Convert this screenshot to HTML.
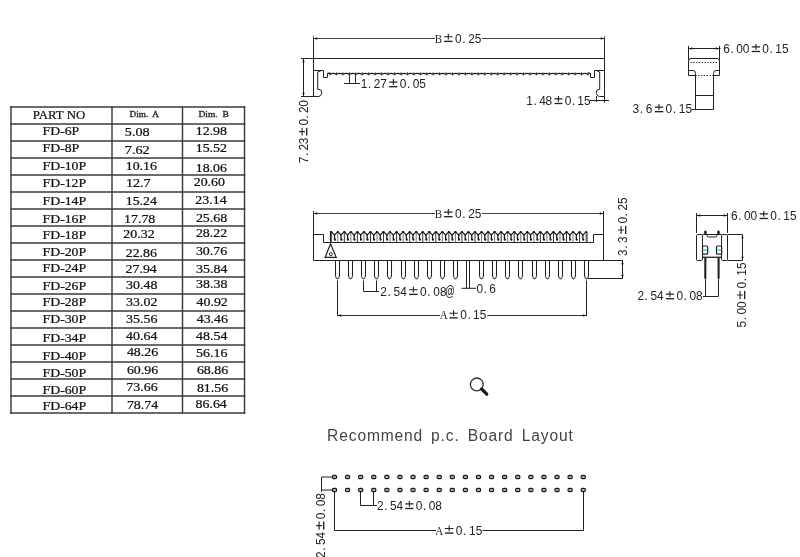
<!DOCTYPE html>
<html><head><meta charset="utf-8"><title>FD connector</title>
<style>
html,body{margin:0;padding:0;background:#fff;}
body{width:800px;height:557px;overflow:hidden;font-family:"Liberation Sans",sans-serif;}
svg{display:block;position:absolute;left:0;top:0;}
#main{filter:grayscale(1);}
</style></head><body>
<svg id="main" width="800" height="557" viewBox="0 0 800 557">
<rect width="800" height="557" fill="#fff"/>
<line x1="10.2" y1="107.0" x2="245.3" y2="107.0" stroke="#3a3a3a" stroke-width="1.45" />
<line x1="10.2" y1="124.0" x2="245.3" y2="124.0" stroke="#3a3a3a" stroke-width="1.45" />
<line x1="10.2" y1="141.0" x2="245.3" y2="141.0" stroke="#3a3a3a" stroke-width="1.45" />
<line x1="10.2" y1="158.0" x2="245.3" y2="158.0" stroke="#3a3a3a" stroke-width="1.45" />
<line x1="10.2" y1="175.0" x2="245.3" y2="175.0" stroke="#3a3a3a" stroke-width="1.45" />
<line x1="10.2" y1="192.0" x2="245.3" y2="192.0" stroke="#3a3a3a" stroke-width="1.45" />
<line x1="10.2" y1="209.0" x2="245.3" y2="209.0" stroke="#3a3a3a" stroke-width="1.45" />
<line x1="10.2" y1="226.0" x2="245.3" y2="226.0" stroke="#3a3a3a" stroke-width="1.45" />
<line x1="10.2" y1="243.0" x2="245.3" y2="243.0" stroke="#3a3a3a" stroke-width="1.45" />
<line x1="10.2" y1="260.0" x2="245.3" y2="260.0" stroke="#3a3a3a" stroke-width="1.45" />
<line x1="10.2" y1="277.0" x2="245.3" y2="277.0" stroke="#3a3a3a" stroke-width="1.45" />
<line x1="10.2" y1="294.0" x2="245.3" y2="294.0" stroke="#3a3a3a" stroke-width="1.45" />
<line x1="10.2" y1="311.0" x2="245.3" y2="311.0" stroke="#3a3a3a" stroke-width="1.45" />
<line x1="10.2" y1="328.0" x2="245.3" y2="328.0" stroke="#3a3a3a" stroke-width="1.45" />
<line x1="10.2" y1="345.0" x2="245.3" y2="345.0" stroke="#3a3a3a" stroke-width="1.45" />
<line x1="10.2" y1="362.0" x2="245.3" y2="362.0" stroke="#3a3a3a" stroke-width="1.45" />
<line x1="10.2" y1="379.0" x2="245.3" y2="379.0" stroke="#3a3a3a" stroke-width="1.45" />
<line x1="10.2" y1="396.0" x2="245.3" y2="396.0" stroke="#3a3a3a" stroke-width="1.45" />
<line x1="10.2" y1="413.0" x2="245.3" y2="413.0" stroke="#3a3a3a" stroke-width="1.45" />
<line x1="11.0" y1="106.2" x2="11.0" y2="413.8" stroke="#3a3a3a" stroke-width="1.45" />
<line x1="112.0" y1="106.2" x2="112.0" y2="413.8" stroke="#3a3a3a" stroke-width="1.45" />
<line x1="182.5" y1="106.2" x2="182.5" y2="413.8" stroke="#3a3a3a" stroke-width="1.45" />
<line x1="244.5" y1="106.2" x2="244.5" y2="413.8" stroke="#3a3a3a" stroke-width="1.45" />
<text x="32.8" y="118.8" font-family="Liberation Serif" font-size="11.5" fill="#111" textLength="52.40" lengthAdjust="spacingAndGlyphs" stroke="#111" stroke-width="0.22">PART NO</text>
<text x="129.5" y="117.4" font-family="Liberation Serif" font-size="8.3" fill="#222" textLength="29.50" lengthAdjust="spacingAndGlyphs" stroke="#222" stroke-width="0.3" xml:space="preserve">Dim.  A</text>
<text x="198.5" y="117.4" font-family="Liberation Serif" font-size="8.3" fill="#222" textLength="30.30" lengthAdjust="spacingAndGlyphs" stroke="#222" stroke-width="0.3" xml:space="preserve">Dim.  B</text>
<text x="42.5" y="134.65" font-family="Liberation Serif" font-size="11.6" fill="#111" textLength="36.80" lengthAdjust="spacingAndGlyphs" stroke="#111" stroke-width="0.22">FD-6P</text>
<text x="124.85" y="136.25" font-family="Liberation Serif" font-size="11.6" fill="#111" textLength="24.85" lengthAdjust="spacingAndGlyphs" stroke="#111" stroke-width="0.22">5.08</text>
<text x="195.7" y="134.55" font-family="Liberation Serif" font-size="11.6" fill="#111" textLength="31.30" lengthAdjust="spacingAndGlyphs" stroke="#111" stroke-width="0.22">12.98</text>
<text x="42.5" y="152.15" font-family="Liberation Serif" font-size="11.6" fill="#111" textLength="36.80" lengthAdjust="spacingAndGlyphs" stroke="#111" stroke-width="0.22">FD-8P</text>
<text x="124.85" y="153.7" font-family="Liberation Serif" font-size="11.6" fill="#111" textLength="24.85" lengthAdjust="spacingAndGlyphs" stroke="#111" stroke-width="0.22">7.62</text>
<text x="195.7" y="152.3" font-family="Liberation Serif" font-size="11.6" fill="#111" textLength="31.30" lengthAdjust="spacingAndGlyphs" stroke="#111" stroke-width="0.22">15.52</text>
<text x="42.5" y="170.35" font-family="Liberation Serif" font-size="11.6" fill="#111" textLength="43.70" lengthAdjust="spacingAndGlyphs" stroke="#111" stroke-width="0.22">FD-10P</text>
<text x="125.69999999999999" y="169.8" font-family="Liberation Serif" font-size="11.6" fill="#111" textLength="31.30" lengthAdjust="spacingAndGlyphs" stroke="#111" stroke-width="0.22">10.16</text>
<text x="195.7" y="171.55" font-family="Liberation Serif" font-size="11.6" fill="#111" textLength="31.30" lengthAdjust="spacingAndGlyphs" stroke="#111" stroke-width="0.22">18.06</text>
<text x="42.5" y="187.25" font-family="Liberation Serif" font-size="11.6" fill="#111" textLength="43.70" lengthAdjust="spacingAndGlyphs" stroke="#111" stroke-width="0.22">FD-12P</text>
<text x="125.89999999999999" y="187.05" font-family="Liberation Serif" font-size="11.6" fill="#111" textLength="24.80" lengthAdjust="spacingAndGlyphs" stroke="#111" stroke-width="0.22">12.7</text>
<text x="193.7" y="186.25" font-family="Liberation Serif" font-size="11.6" fill="#111" textLength="31.30" lengthAdjust="spacingAndGlyphs" stroke="#111" stroke-width="0.22">20.60</text>
<text x="42.5" y="205.15" font-family="Liberation Serif" font-size="11.6" fill="#111" textLength="43.70" lengthAdjust="spacingAndGlyphs" stroke="#111" stroke-width="0.22">FD-14P</text>
<text x="125.69999999999999" y="204.55" font-family="Liberation Serif" font-size="11.6" fill="#111" textLength="31.30" lengthAdjust="spacingAndGlyphs" stroke="#111" stroke-width="0.22">15.24</text>
<text x="195.29999999999998" y="204.4" font-family="Liberation Serif" font-size="11.6" fill="#111" textLength="31.30" lengthAdjust="spacingAndGlyphs" stroke="#111" stroke-width="0.22">23.14</text>
<text x="42.5" y="223.3" font-family="Liberation Serif" font-size="11.6" fill="#111" textLength="43.70" lengthAdjust="spacingAndGlyphs" stroke="#111" stroke-width="0.22">FD-16P</text>
<text x="124.0" y="223.4" font-family="Liberation Serif" font-size="11.6" fill="#111" textLength="31.30" lengthAdjust="spacingAndGlyphs" stroke="#111" stroke-width="0.22">17.78</text>
<text x="195.9" y="221.75" font-family="Liberation Serif" font-size="11.6" fill="#111" textLength="31.30" lengthAdjust="spacingAndGlyphs" stroke="#111" stroke-width="0.22">25.68</text>
<text x="42.5" y="239.2" font-family="Liberation Serif" font-size="11.6" fill="#111" textLength="43.70" lengthAdjust="spacingAndGlyphs" stroke="#111" stroke-width="0.22">FD-18P</text>
<text x="123.3" y="238.25" font-family="Liberation Serif" font-size="11.6" fill="#111" textLength="31.30" lengthAdjust="spacingAndGlyphs" stroke="#111" stroke-width="0.22">20.32</text>
<text x="195.9" y="236.6" font-family="Liberation Serif" font-size="11.6" fill="#111" textLength="31.30" lengthAdjust="spacingAndGlyphs" stroke="#111" stroke-width="0.22">28.22</text>
<text x="42.5" y="256.35" font-family="Liberation Serif" font-size="11.6" fill="#111" textLength="43.70" lengthAdjust="spacingAndGlyphs" stroke="#111" stroke-width="0.22">FD-20P</text>
<text x="125.69999999999999" y="256.85" font-family="Liberation Serif" font-size="11.6" fill="#111" textLength="31.30" lengthAdjust="spacingAndGlyphs" stroke="#111" stroke-width="0.22">22.86</text>
<text x="195.9" y="254.75" font-family="Liberation Serif" font-size="11.6" fill="#111" textLength="31.30" lengthAdjust="spacingAndGlyphs" stroke="#111" stroke-width="0.22">30.76</text>
<text x="42.5" y="271.75" font-family="Liberation Serif" font-size="11.6" fill="#111" textLength="43.70" lengthAdjust="spacingAndGlyphs" stroke="#111" stroke-width="0.22">FD-24P</text>
<text x="125.5" y="273.2" font-family="Liberation Serif" font-size="11.6" fill="#111" textLength="31.30" lengthAdjust="spacingAndGlyphs" stroke="#111" stroke-width="0.22">27.94</text>
<text x="196.1" y="273.2" font-family="Liberation Serif" font-size="11.6" fill="#111" textLength="31.30" lengthAdjust="spacingAndGlyphs" stroke="#111" stroke-width="0.22">35.84</text>
<text x="42.5" y="289.75" font-family="Liberation Serif" font-size="11.6" fill="#111" textLength="43.70" lengthAdjust="spacingAndGlyphs" stroke="#111" stroke-width="0.22">FD-26P</text>
<text x="126.1" y="288.65" font-family="Liberation Serif" font-size="11.6" fill="#111" textLength="31.30" lengthAdjust="spacingAndGlyphs" stroke="#111" stroke-width="0.22">30.48</text>
<text x="196.1" y="288.1" font-family="Liberation Serif" font-size="11.6" fill="#111" textLength="31.30" lengthAdjust="spacingAndGlyphs" stroke="#111" stroke-width="0.22">38.38</text>
<text x="42.5" y="305.55" font-family="Liberation Serif" font-size="11.6" fill="#111" textLength="43.70" lengthAdjust="spacingAndGlyphs" stroke="#111" stroke-width="0.22">FD-28P</text>
<text x="126.1" y="305.7" font-family="Liberation Serif" font-size="11.6" fill="#111" textLength="31.30" lengthAdjust="spacingAndGlyphs" stroke="#111" stroke-width="0.22">33.02</text>
<text x="196.5" y="305.95" font-family="Liberation Serif" font-size="11.6" fill="#111" textLength="31.30" lengthAdjust="spacingAndGlyphs" stroke="#111" stroke-width="0.22">40.92</text>
<text x="42.5" y="322.9" font-family="Liberation Serif" font-size="11.6" fill="#111" textLength="43.70" lengthAdjust="spacingAndGlyphs" stroke="#111" stroke-width="0.22">FD-30P</text>
<text x="126.1" y="322.8" font-family="Liberation Serif" font-size="11.6" fill="#111" textLength="31.30" lengthAdjust="spacingAndGlyphs" stroke="#111" stroke-width="0.22">35.56</text>
<text x="196.7" y="322.95" font-family="Liberation Serif" font-size="11.6" fill="#111" textLength="31.30" lengthAdjust="spacingAndGlyphs" stroke="#111" stroke-width="0.22">43.46</text>
<text x="42.5" y="341.85" font-family="Liberation Serif" font-size="11.6" fill="#111" textLength="43.70" lengthAdjust="spacingAndGlyphs" stroke="#111" stroke-width="0.22">FD-34P</text>
<text x="126.1" y="339.85" font-family="Liberation Serif" font-size="11.6" fill="#111" textLength="31.30" lengthAdjust="spacingAndGlyphs" stroke="#111" stroke-width="0.22">40.64</text>
<text x="196.1" y="339.85" font-family="Liberation Serif" font-size="11.6" fill="#111" textLength="31.30" lengthAdjust="spacingAndGlyphs" stroke="#111" stroke-width="0.22">48.54</text>
<text x="42.5" y="359.95" font-family="Liberation Serif" font-size="11.6" fill="#111" textLength="43.70" lengthAdjust="spacingAndGlyphs" stroke="#111" stroke-width="0.22">FD-40P</text>
<text x="126.89999999999999" y="356.45" font-family="Liberation Serif" font-size="11.6" fill="#111" textLength="31.30" lengthAdjust="spacingAndGlyphs" stroke="#111" stroke-width="0.22">48.26</text>
<text x="196.1" y="357.3" font-family="Liberation Serif" font-size="11.6" fill="#111" textLength="31.30" lengthAdjust="spacingAndGlyphs" stroke="#111" stroke-width="0.22">56.16</text>
<text x="42.5" y="376.5" font-family="Liberation Serif" font-size="11.6" fill="#111" textLength="43.70" lengthAdjust="spacingAndGlyphs" stroke="#111" stroke-width="0.22">FD-50P</text>
<text x="126.89999999999999" y="374.35" font-family="Liberation Serif" font-size="11.6" fill="#111" textLength="31.30" lengthAdjust="spacingAndGlyphs" stroke="#111" stroke-width="0.22">60.96</text>
<text x="196.9" y="374.35" font-family="Liberation Serif" font-size="11.6" fill="#111" textLength="31.30" lengthAdjust="spacingAndGlyphs" stroke="#111" stroke-width="0.22">68.86</text>
<text x="42.5" y="393.7" font-family="Liberation Serif" font-size="11.6" fill="#111" textLength="43.70" lengthAdjust="spacingAndGlyphs" stroke="#111" stroke-width="0.22">FD-60P</text>
<text x="126.3" y="391.2" font-family="Liberation Serif" font-size="11.6" fill="#111" textLength="31.30" lengthAdjust="spacingAndGlyphs" stroke="#111" stroke-width="0.22">73.66</text>
<text x="196.9" y="391.95" font-family="Liberation Serif" font-size="11.6" fill="#111" textLength="31.30" lengthAdjust="spacingAndGlyphs" stroke="#111" stroke-width="0.22">81.56</text>
<text x="42.5" y="410.0" font-family="Liberation Serif" font-size="11.6" fill="#111" textLength="43.70" lengthAdjust="spacingAndGlyphs" stroke="#111" stroke-width="0.22">FD-64P</text>
<text x="126.89999999999999" y="409.1" font-family="Liberation Serif" font-size="11.6" fill="#111" textLength="31.30" lengthAdjust="spacingAndGlyphs" stroke="#111" stroke-width="0.22">78.74</text>
<text x="195.5" y="407.5" font-family="Liberation Serif" font-size="11.6" fill="#111" textLength="31.30" lengthAdjust="spacingAndGlyphs" stroke="#111" stroke-width="0.22">86.64</text>
<line x1="313.5" y1="36.5" x2="313.5" y2="96.5" stroke="#222" stroke-width="1" />
<line x1="604.5" y1="36.5" x2="604.5" y2="102.5" stroke="#222" stroke-width="1" />
<line x1="313.5" y1="38.5" x2="435" y2="38.5" stroke="#444" stroke-width="1" />
<line x1="482" y1="38.5" x2="604.5" y2="38.5" stroke="#444" stroke-width="1" />
<polygon points="314,38.5 317.2,37.3 317.2,39.7" fill="#111"/>
<polygon points="604,38.5 600.8,37.3 600.8,39.7" fill="#111"/>
<g transform="translate(435.05,42.9)"><text x="-0.29" y="0" transform="scale(0.85,1)" font-family="Liberation Serif" font-size="12.94" fill="#222">B</text><path d="M9.03 -6.1H17.49M13.26 -9.1V-3.3" stroke="#222" stroke-width="1.1" fill="none"/><rect x="9.03" y="-2.2" width="8.46" height="1.35" fill="#222"/><text x="22.11 30.18 36.84 44.22" y="0" transform="scale(0.9,1)" font-family="Liberation Sans" font-size="13.2" fill="#222">0.25</text></g>
<line x1="301" y1="58.5" x2="604.5" y2="58.5" stroke="#222" stroke-width="1" />
<line x1="303.5" y1="58.5" x2="303.5" y2="96" stroke="#222" stroke-width="1" />
<polygon points="303.5,59 302.3,62.2 304.7,62.2" fill="#111"/>
<polygon points="303.5,96 302.3,92.8 304.7,92.8" fill="#111"/>
<line x1="301" y1="96.5" x2="319" y2="96.5" stroke="#222" stroke-width="1" />
<g transform="translate(308.20,162.95) rotate(-90)"><path d="M27.44 -6.1H35.16M31.30 -9.1V-3.3" stroke="#222" stroke-width="1.1" fill="none"/><rect x="27.44" y="-2.2" width="7.72" height="1.35" fill="#222"/><text x="-0.20 7.68 13.72 20.71 41.54 49.41 55.45 62.41" y="0" transform="scale(0.9,1)" font-family="Liberation Sans" font-size="13.2" fill="#222">7.230.20</text></g>
<path d="M313.5 70.5 L323.5 70.5 L323.5 77.5 L327.5 77.5 L327.5 73.5" stroke="#222" stroke-width="1" fill="none" />
<path d="M321 70.8 L317.7 72 L317.7 89.3 L320 89.6 Q321.6 90.1 321.6 92 L321.6 93.3 Q321.3 96.3 318.5 96.5" stroke="#222" stroke-width="1" fill="none" />
<g transform="translate(918,0) scale(-1,1)">
<path d="M313.5 70.5 L323.5 70.5 L323.5 77.5 L327.5 77.5 L327.5 73.5" stroke="#222" stroke-width="1" fill="none" />
<path d="M321 70.8 L318.3 72 L318.3 89.3 L320 89.6 Q321.6 90.1 321.6 92 L321.6 93.3 Q321.3 96.3 318.5 96.5 L313.5 96.5" stroke="#222" stroke-width="1" fill="none" />
</g>
<path d="M327.5 73.5 Q328.75 72.6 330.00 74.2 Q333.23 72.6 336.45 74.2 Q339.67 72.6 342.90 74.2 Q346.12 72.6 349.35 74.2 Q352.58 72.6 355.80 74.2 Q359.02 72.6 362.25 74.2 Q365.48 72.6 368.70 74.2 Q371.92 72.6 375.15 74.2 Q378.38 72.6 381.60 74.2 Q384.83 72.6 388.05 74.2 Q391.27 72.6 394.50 74.2 Q397.73 72.6 400.95 74.2 Q404.17 72.6 407.40 74.2 Q410.62 72.6 413.85 74.2 Q417.08 72.6 420.30 74.2 Q423.52 72.6 426.75 74.2 Q429.98 72.6 433.20 74.2 Q436.42 72.6 439.65 74.2 Q442.88 72.6 446.10 74.2 Q449.33 72.6 452.55 74.2 Q455.77 72.6 459.00 74.2 Q462.23 72.6 465.45 74.2 Q468.68 72.6 471.90 74.2 Q475.12 72.6 478.35 74.2 Q481.58 72.6 484.80 74.2 Q488.02 72.6 491.25 74.2 Q494.48 72.6 497.70 74.2 Q500.93 72.6 504.15 74.2 Q507.38 72.6 510.60 74.2 Q513.83 72.6 517.05 74.2 Q520.27 72.6 523.50 74.2 Q526.73 72.6 529.95 74.2 Q533.17 72.6 536.40 74.2 Q539.62 72.6 542.85 74.2 Q546.08 72.6 549.30 74.2 Q552.52 72.6 555.75 74.2 Q558.98 72.6 562.20 74.2 Q565.42 72.6 568.65 74.2 Q571.88 72.6 575.10 74.2 Q578.33 72.6 581.55 74.2 Q584.77 72.6 588.00 74.2 Q589.25 72.6 590.5 73.5" stroke="#1a1a1a" stroke-width="1.25" fill="none" />
<line x1="330.0" y1="72.2" x2="330.0" y2="75.4" stroke="#333" stroke-width="0.9" />
<line x1="336.45" y1="72.2" x2="336.45" y2="75.4" stroke="#333" stroke-width="0.9" />
<line x1="342.9" y1="72.2" x2="342.9" y2="75.4" stroke="#333" stroke-width="0.9" />
<line x1="349.35" y1="72.2" x2="349.35" y2="75.4" stroke="#333" stroke-width="0.9" />
<line x1="355.8" y1="72.2" x2="355.8" y2="75.4" stroke="#333" stroke-width="0.9" />
<line x1="362.25" y1="72.2" x2="362.25" y2="75.4" stroke="#333" stroke-width="0.9" />
<line x1="368.7" y1="72.2" x2="368.7" y2="75.4" stroke="#333" stroke-width="0.9" />
<line x1="375.15" y1="72.2" x2="375.15" y2="75.4" stroke="#333" stroke-width="0.9" />
<line x1="381.6" y1="72.2" x2="381.6" y2="75.4" stroke="#333" stroke-width="0.9" />
<line x1="388.05" y1="72.2" x2="388.05" y2="75.4" stroke="#333" stroke-width="0.9" />
<line x1="394.5" y1="72.2" x2="394.5" y2="75.4" stroke="#333" stroke-width="0.9" />
<line x1="400.95" y1="72.2" x2="400.95" y2="75.4" stroke="#333" stroke-width="0.9" />
<line x1="407.4" y1="72.2" x2="407.4" y2="75.4" stroke="#333" stroke-width="0.9" />
<line x1="413.85" y1="72.2" x2="413.85" y2="75.4" stroke="#333" stroke-width="0.9" />
<line x1="420.3" y1="72.2" x2="420.3" y2="75.4" stroke="#333" stroke-width="0.9" />
<line x1="426.75" y1="72.2" x2="426.75" y2="75.4" stroke="#333" stroke-width="0.9" />
<line x1="433.2" y1="72.2" x2="433.2" y2="75.4" stroke="#333" stroke-width="0.9" />
<line x1="439.65" y1="72.2" x2="439.65" y2="75.4" stroke="#333" stroke-width="0.9" />
<line x1="446.1" y1="72.2" x2="446.1" y2="75.4" stroke="#333" stroke-width="0.9" />
<line x1="452.55" y1="72.2" x2="452.55" y2="75.4" stroke="#333" stroke-width="0.9" />
<line x1="459.0" y1="72.2" x2="459.0" y2="75.4" stroke="#333" stroke-width="0.9" />
<line x1="465.45" y1="72.2" x2="465.45" y2="75.4" stroke="#333" stroke-width="0.9" />
<line x1="471.9" y1="72.2" x2="471.9" y2="75.4" stroke="#333" stroke-width="0.9" />
<line x1="478.35" y1="72.2" x2="478.35" y2="75.4" stroke="#333" stroke-width="0.9" />
<line x1="484.8" y1="72.2" x2="484.8" y2="75.4" stroke="#333" stroke-width="0.9" />
<line x1="491.25" y1="72.2" x2="491.25" y2="75.4" stroke="#333" stroke-width="0.9" />
<line x1="497.7" y1="72.2" x2="497.7" y2="75.4" stroke="#333" stroke-width="0.9" />
<line x1="504.15" y1="72.2" x2="504.15" y2="75.4" stroke="#333" stroke-width="0.9" />
<line x1="510.6" y1="72.2" x2="510.6" y2="75.4" stroke="#333" stroke-width="0.9" />
<line x1="517.05" y1="72.2" x2="517.05" y2="75.4" stroke="#333" stroke-width="0.9" />
<line x1="523.5" y1="72.2" x2="523.5" y2="75.4" stroke="#333" stroke-width="0.9" />
<line x1="529.95" y1="72.2" x2="529.95" y2="75.4" stroke="#333" stroke-width="0.9" />
<line x1="536.4" y1="72.2" x2="536.4" y2="75.4" stroke="#333" stroke-width="0.9" />
<line x1="542.85" y1="72.2" x2="542.85" y2="75.4" stroke="#333" stroke-width="0.9" />
<line x1="549.3" y1="72.2" x2="549.3" y2="75.4" stroke="#333" stroke-width="0.9" />
<line x1="555.75" y1="72.2" x2="555.75" y2="75.4" stroke="#333" stroke-width="0.9" />
<line x1="562.2" y1="72.2" x2="562.2" y2="75.4" stroke="#333" stroke-width="0.9" />
<line x1="568.65" y1="72.2" x2="568.65" y2="75.4" stroke="#333" stroke-width="0.9" />
<line x1="575.1" y1="72.2" x2="575.1" y2="75.4" stroke="#333" stroke-width="0.9" />
<line x1="581.55" y1="72.2" x2="581.55" y2="75.4" stroke="#333" stroke-width="0.9" />
<line x1="588.0" y1="72.2" x2="588.0" y2="75.4" stroke="#333" stroke-width="0.9" />
<line x1="349.5" y1="74" x2="349.5" y2="84" stroke="#333" stroke-width="1" />
<line x1="355.5" y1="74" x2="355.5" y2="84" stroke="#333" stroke-width="1" />
<line x1="344" y1="83.5" x2="360" y2="83.5" stroke="#222" stroke-width="1" />
<g transform="translate(360.85,88.2)"><path d="M28.40 -6.1H36.60M32.50 -9.1V-3.3" stroke="#222" stroke-width="1.1" fill="none"/><rect x="28.40" y="-2.2" width="8.20" height="1.35" fill="#222"/><text x="-0.24 7.94 14.38 21.60 43.27 51.28 57.72 64.95" y="0" transform="scale(0.9,1)" font-family="Liberation Sans" font-size="13.2" fill="#222">1.270.05</text></g>
<line x1="596.5" y1="96" x2="596.5" y2="102" stroke="#333" stroke-width="1" />
<line x1="590" y1="100.5" x2="609" y2="100.5" stroke="#222" stroke-width="1" />
<g transform="translate(526.45,105)"><path d="M28.00 -6.1H36.00M32.00 -9.1V-3.3" stroke="#222" stroke-width="1.1" fill="none"/><rect x="28.00" y="-2.2" width="8.00" height="1.35" fill="#222"/><text x="-0.30 7.83 14.15 21.22 42.55 50.50 56.59 63.90" y="0" transform="scale(0.9,1)" font-family="Liberation Sans" font-size="13.2" fill="#222">1.480.15</text></g>
<line x1="313.5" y1="211" x2="313.5" y2="260.5" stroke="#222" stroke-width="1" />
<line x1="603.5" y1="211" x2="603.5" y2="260.5" stroke="#222" stroke-width="1" />
<line x1="313.5" y1="213.5" x2="435" y2="213.5" stroke="#444" stroke-width="1" />
<line x1="482" y1="213.5" x2="603.5" y2="213.5" stroke="#444" stroke-width="1" />
<polygon points="314,213.5 317.2,212.3 317.2,214.7" fill="#111"/>
<polygon points="603,213.5 599.8,212.3 599.8,214.7" fill="#111"/>
<g transform="translate(435.05,218.2)"><text x="-0.29" y="0" transform="scale(0.85,1)" font-family="Liberation Serif" font-size="12.94" fill="#222">B</text><path d="M9.03 -6.1H17.49M13.26 -9.1V-3.3" stroke="#222" stroke-width="1.1" fill="none"/><rect x="9.03" y="-2.2" width="8.46" height="1.35" fill="#222"/><text x="22.11 30.18 36.84 44.22" y="0" transform="scale(0.9,1)" font-family="Liberation Sans" font-size="13.2" fill="#222">0.25</text></g>
<path d="M313.5 234.5 L323.5 234.5 L323.5 242.5 L593.5 242.5 L593.5 234.5 L603.5 234.5" stroke="#222" stroke-width="1" fill="none" />
<line x1="313.5" y1="260.5" x2="623" y2="260.5" stroke="#222" stroke-width="1" />
<path d="M330.5 242.5 L330.5 232 L331.25 231.8 L334.52 234.9 L337.79 231.8 L337.79 231.8 L341.05 234.9 L344.32 231.8 L344.32 231.8 L347.59 234.9 L350.86 231.8 L350.86 231.8 L354.12 234.9 L357.39 231.8 L357.39 231.8 L360.66 234.9 L363.93 231.8 L363.93 231.8 L367.19 234.9 L370.46 231.8 L370.46 231.8 L373.73 234.9 L377.00 231.8 L377.00 231.8 L380.26 234.9 L383.53 231.8 L383.53 231.8 L386.80 234.9 L390.06 231.8 L390.06 231.8 L393.33 234.9 L396.60 231.8 L396.60 231.8 L399.87 234.9 L403.14 231.8 L403.13 231.8 L406.40 234.9 L409.67 231.8 L409.67 231.8 L412.94 234.9 L416.21 231.8 L416.20 231.8 L419.47 234.9 L422.74 231.8 L422.74 231.8 L426.01 234.9 L429.28 231.8 L429.27 231.8 L432.54 234.9 L435.81 231.8 L435.81 231.8 L439.08 234.9 L442.35 231.8 L442.35 231.8 L445.61 234.9 L448.88 231.8 L448.88 231.8 L452.15 234.9 L455.42 231.8 L455.42 231.8 L458.68 234.9 L461.95 231.8 L461.95 231.8 L465.22 234.9 L468.49 231.8 L468.49 231.8 L471.75 234.9 L475.02 231.8 L475.02 231.8 L478.29 234.9 L481.56 231.8 L481.56 231.8 L484.82 234.9 L488.09 231.8 L488.09 231.8 L491.36 234.9 L494.63 231.8 L494.62 231.8 L497.89 234.9 L501.16 231.8 L501.16 231.8 L504.43 234.9 L507.69 231.8 L507.69 231.8 L510.96 234.9 L514.23 231.8 L514.23 231.8 L517.50 234.9 L520.76 231.8 L520.76 231.8 L524.03 234.9 L527.30 231.8 L527.30 231.8 L530.57 234.9 L533.83 231.8 L533.84 231.8 L537.10 234.9 L540.37 231.8 L540.37 231.8 L543.64 234.9 L546.90 231.8 L546.90 231.8 L550.17 234.9 L553.44 231.8 L553.44 231.8 L556.71 234.9 L559.98 231.8 L559.98 231.8 L563.24 234.9 L566.51 231.8 L566.51 231.8 L569.78 234.9 L573.04 231.8 L573.05 231.8 L576.31 234.9 L579.58 231.8 L579.58 231.8 L582.85 234.9 L586.12 231.8" stroke="#1a1a1a" stroke-width="1.15" fill="none" />
<line x1="331.25" y1="232" x2="331.25" y2="242.5" stroke="#333" stroke-width="1.0" />
<circle cx="331.25" cy="232.0" r="1.1" fill="#111"/>
<path d="M334.52 234.6 L334.52 239.3" stroke="#111" stroke-width="1.25" fill="none" />
<circle cx="334.92" cy="239.7" r="1.1" fill="#111"/>
<line x1="337.79" y1="232" x2="337.79" y2="242.5" stroke="#777" stroke-width="1.0" />
<circle cx="337.79" cy="232.0" r="1.1" fill="#111"/>
<path d="M341.05 234.6 L341.05 239.3" stroke="#111" stroke-width="1.25" fill="none" />
<circle cx="341.45" cy="239.7" r="1.1" fill="#111"/>
<line x1="344.32" y1="232" x2="344.32" y2="242.5" stroke="#333" stroke-width="1.0" />
<circle cx="344.32" cy="232.0" r="1.1" fill="#111"/>
<path d="M347.59 234.6 L347.59 239.3" stroke="#111" stroke-width="1.25" fill="none" />
<circle cx="347.99" cy="239.7" r="1.1" fill="#111"/>
<line x1="350.86" y1="232" x2="350.86" y2="242.5" stroke="#777" stroke-width="1.0" />
<circle cx="350.86" cy="232.0" r="1.1" fill="#111"/>
<path d="M354.12 234.6 L354.12 239.3" stroke="#111" stroke-width="1.25" fill="none" />
<circle cx="354.52" cy="239.7" r="1.1" fill="#111"/>
<line x1="357.39" y1="232" x2="357.39" y2="242.5" stroke="#333" stroke-width="1.0" />
<circle cx="357.39" cy="232.0" r="1.1" fill="#111"/>
<path d="M360.66 234.6 L360.66 239.3" stroke="#111" stroke-width="1.25" fill="none" />
<circle cx="361.06" cy="239.7" r="1.1" fill="#111"/>
<line x1="363.93" y1="232" x2="363.93" y2="242.5" stroke="#777" stroke-width="1.0" />
<circle cx="363.93" cy="232.0" r="1.1" fill="#111"/>
<path d="M367.19 234.6 L367.19 239.3" stroke="#111" stroke-width="1.25" fill="none" />
<circle cx="367.59" cy="239.7" r="1.1" fill="#111"/>
<line x1="370.46" y1="232" x2="370.46" y2="242.5" stroke="#333" stroke-width="1.0" />
<circle cx="370.46" cy="232.0" r="1.1" fill="#111"/>
<path d="M373.73 234.6 L373.73 239.3" stroke="#111" stroke-width="1.25" fill="none" />
<circle cx="374.13" cy="239.7" r="1.1" fill="#111"/>
<line x1="377.0" y1="232" x2="377.0" y2="242.5" stroke="#777" stroke-width="1.0" />
<circle cx="377.00" cy="232.0" r="1.1" fill="#111"/>
<path d="M380.26 234.6 L380.26 239.3" stroke="#111" stroke-width="1.25" fill="none" />
<circle cx="380.66" cy="239.7" r="1.1" fill="#111"/>
<line x1="383.53" y1="232" x2="383.53" y2="242.5" stroke="#333" stroke-width="1.0" />
<circle cx="383.53" cy="232.0" r="1.1" fill="#111"/>
<path d="M386.80 234.6 L386.80 239.3" stroke="#111" stroke-width="1.25" fill="none" />
<circle cx="387.20" cy="239.7" r="1.1" fill="#111"/>
<line x1="390.06" y1="232" x2="390.06" y2="242.5" stroke="#777" stroke-width="1.0" />
<circle cx="390.06" cy="232.0" r="1.1" fill="#111"/>
<path d="M393.33 234.6 L393.33 239.3" stroke="#111" stroke-width="1.25" fill="none" />
<circle cx="393.73" cy="239.7" r="1.1" fill="#111"/>
<line x1="396.6" y1="232" x2="396.6" y2="242.5" stroke="#333" stroke-width="1.0" />
<circle cx="396.60" cy="232.0" r="1.1" fill="#111"/>
<path d="M399.87 234.6 L399.87 239.3" stroke="#111" stroke-width="1.25" fill="none" />
<circle cx="400.27" cy="239.7" r="1.1" fill="#111"/>
<line x1="403.13" y1="232" x2="403.13" y2="242.5" stroke="#777" stroke-width="1.0" />
<circle cx="403.13" cy="232.0" r="1.1" fill="#111"/>
<path d="M406.40 234.6 L406.40 239.3" stroke="#111" stroke-width="1.25" fill="none" />
<circle cx="406.80" cy="239.7" r="1.1" fill="#111"/>
<line x1="409.67" y1="232" x2="409.67" y2="242.5" stroke="#333" stroke-width="1.0" />
<circle cx="409.67" cy="232.0" r="1.1" fill="#111"/>
<path d="M412.94 234.6 L412.94 239.3" stroke="#111" stroke-width="1.25" fill="none" />
<circle cx="413.34" cy="239.7" r="1.1" fill="#111"/>
<line x1="416.2" y1="232" x2="416.2" y2="242.5" stroke="#777" stroke-width="1.0" />
<circle cx="416.20" cy="232.0" r="1.1" fill="#111"/>
<path d="M419.47 234.6 L419.47 239.3" stroke="#111" stroke-width="1.25" fill="none" />
<circle cx="419.87" cy="239.7" r="1.1" fill="#111"/>
<line x1="422.74" y1="232" x2="422.74" y2="242.5" stroke="#333" stroke-width="1.0" />
<circle cx="422.74" cy="232.0" r="1.1" fill="#111"/>
<path d="M426.01 234.6 L426.01 239.3" stroke="#111" stroke-width="1.25" fill="none" />
<circle cx="426.41" cy="239.7" r="1.1" fill="#111"/>
<line x1="429.27" y1="232" x2="429.27" y2="242.5" stroke="#777" stroke-width="1.0" />
<circle cx="429.27" cy="232.0" r="1.1" fill="#111"/>
<path d="M432.54 234.6 L432.54 239.3" stroke="#111" stroke-width="1.25" fill="none" />
<circle cx="432.94" cy="239.7" r="1.1" fill="#111"/>
<line x1="435.81" y1="232" x2="435.81" y2="242.5" stroke="#333" stroke-width="1.0" />
<circle cx="435.81" cy="232.0" r="1.1" fill="#111"/>
<path d="M439.08 234.6 L439.08 239.3" stroke="#111" stroke-width="1.25" fill="none" />
<circle cx="439.48" cy="239.7" r="1.1" fill="#111"/>
<line x1="442.35" y1="232" x2="442.35" y2="242.5" stroke="#777" stroke-width="1.0" />
<circle cx="442.35" cy="232.0" r="1.1" fill="#111"/>
<path d="M445.61 234.6 L445.61 239.3" stroke="#111" stroke-width="1.25" fill="none" />
<circle cx="446.01" cy="239.7" r="1.1" fill="#111"/>
<line x1="448.88" y1="232" x2="448.88" y2="242.5" stroke="#333" stroke-width="1.0" />
<circle cx="448.88" cy="232.0" r="1.1" fill="#111"/>
<path d="M452.15 234.6 L452.15 239.3" stroke="#111" stroke-width="1.25" fill="none" />
<circle cx="452.55" cy="239.7" r="1.1" fill="#111"/>
<line x1="455.42" y1="232" x2="455.42" y2="242.5" stroke="#777" stroke-width="1.0" />
<circle cx="455.42" cy="232.0" r="1.1" fill="#111"/>
<path d="M458.68 234.6 L458.68 239.3" stroke="#111" stroke-width="1.25" fill="none" />
<circle cx="459.08" cy="239.7" r="1.1" fill="#111"/>
<line x1="461.95" y1="232" x2="461.95" y2="242.5" stroke="#333" stroke-width="1.0" />
<circle cx="461.95" cy="232.0" r="1.1" fill="#111"/>
<path d="M465.22 234.6 L465.22 239.3" stroke="#111" stroke-width="1.25" fill="none" />
<circle cx="465.62" cy="239.7" r="1.1" fill="#111"/>
<line x1="468.49" y1="232" x2="468.49" y2="242.5" stroke="#777" stroke-width="1.0" />
<circle cx="468.49" cy="232.0" r="1.1" fill="#111"/>
<path d="M471.75 234.6 L471.75 239.3" stroke="#111" stroke-width="1.25" fill="none" />
<circle cx="472.15" cy="239.7" r="1.1" fill="#111"/>
<line x1="475.02" y1="232" x2="475.02" y2="242.5" stroke="#333" stroke-width="1.0" />
<circle cx="475.02" cy="232.0" r="1.1" fill="#111"/>
<path d="M478.29 234.6 L478.29 239.3" stroke="#111" stroke-width="1.25" fill="none" />
<circle cx="478.69" cy="239.7" r="1.1" fill="#111"/>
<line x1="481.56" y1="232" x2="481.56" y2="242.5" stroke="#777" stroke-width="1.0" />
<circle cx="481.56" cy="232.0" r="1.1" fill="#111"/>
<path d="M484.82 234.6 L484.82 239.3" stroke="#111" stroke-width="1.25" fill="none" />
<circle cx="485.22" cy="239.7" r="1.1" fill="#111"/>
<line x1="488.09" y1="232" x2="488.09" y2="242.5" stroke="#333" stroke-width="1.0" />
<circle cx="488.09" cy="232.0" r="1.1" fill="#111"/>
<path d="M491.36 234.6 L491.36 239.3" stroke="#111" stroke-width="1.25" fill="none" />
<circle cx="491.76" cy="239.7" r="1.1" fill="#111"/>
<line x1="494.62" y1="232" x2="494.62" y2="242.5" stroke="#777" stroke-width="1.0" />
<circle cx="494.62" cy="232.0" r="1.1" fill="#111"/>
<path d="M497.89 234.6 L497.89 239.3" stroke="#111" stroke-width="1.25" fill="none" />
<circle cx="498.29" cy="239.7" r="1.1" fill="#111"/>
<line x1="501.16" y1="232" x2="501.16" y2="242.5" stroke="#333" stroke-width="1.0" />
<circle cx="501.16" cy="232.0" r="1.1" fill="#111"/>
<path d="M504.43 234.6 L504.43 239.3" stroke="#111" stroke-width="1.25" fill="none" />
<circle cx="504.83" cy="239.7" r="1.1" fill="#111"/>
<line x1="507.69" y1="232" x2="507.69" y2="242.5" stroke="#777" stroke-width="1.0" />
<circle cx="507.69" cy="232.0" r="1.1" fill="#111"/>
<path d="M510.96 234.6 L510.96 239.3" stroke="#111" stroke-width="1.25" fill="none" />
<circle cx="511.36" cy="239.7" r="1.1" fill="#111"/>
<line x1="514.23" y1="232" x2="514.23" y2="242.5" stroke="#333" stroke-width="1.0" />
<circle cx="514.23" cy="232.0" r="1.1" fill="#111"/>
<path d="M517.50 234.6 L517.50 239.3" stroke="#111" stroke-width="1.25" fill="none" />
<circle cx="517.90" cy="239.7" r="1.1" fill="#111"/>
<line x1="520.76" y1="232" x2="520.76" y2="242.5" stroke="#777" stroke-width="1.0" />
<circle cx="520.76" cy="232.0" r="1.1" fill="#111"/>
<path d="M524.03 234.6 L524.03 239.3" stroke="#111" stroke-width="1.25" fill="none" />
<circle cx="524.43" cy="239.7" r="1.1" fill="#111"/>
<line x1="527.3" y1="232" x2="527.3" y2="242.5" stroke="#333" stroke-width="1.0" />
<circle cx="527.30" cy="232.0" r="1.1" fill="#111"/>
<path d="M530.57 234.6 L530.57 239.3" stroke="#111" stroke-width="1.25" fill="none" />
<circle cx="530.97" cy="239.7" r="1.1" fill="#111"/>
<line x1="533.84" y1="232" x2="533.84" y2="242.5" stroke="#777" stroke-width="1.0" />
<circle cx="533.84" cy="232.0" r="1.1" fill="#111"/>
<path d="M537.10 234.6 L537.10 239.3" stroke="#111" stroke-width="1.25" fill="none" />
<circle cx="537.50" cy="239.7" r="1.1" fill="#111"/>
<line x1="540.37" y1="232" x2="540.37" y2="242.5" stroke="#333" stroke-width="1.0" />
<circle cx="540.37" cy="232.0" r="1.1" fill="#111"/>
<path d="M543.64 234.6 L543.64 239.3" stroke="#111" stroke-width="1.25" fill="none" />
<circle cx="544.04" cy="239.7" r="1.1" fill="#111"/>
<line x1="546.9" y1="232" x2="546.9" y2="242.5" stroke="#777" stroke-width="1.0" />
<circle cx="546.90" cy="232.0" r="1.1" fill="#111"/>
<path d="M550.17 234.6 L550.17 239.3" stroke="#111" stroke-width="1.25" fill="none" />
<circle cx="550.57" cy="239.7" r="1.1" fill="#111"/>
<line x1="553.44" y1="232" x2="553.44" y2="242.5" stroke="#333" stroke-width="1.0" />
<circle cx="553.44" cy="232.0" r="1.1" fill="#111"/>
<path d="M556.71 234.6 L556.71 239.3" stroke="#111" stroke-width="1.25" fill="none" />
<circle cx="557.11" cy="239.7" r="1.1" fill="#111"/>
<line x1="559.98" y1="232" x2="559.98" y2="242.5" stroke="#777" stroke-width="1.0" />
<circle cx="559.98" cy="232.0" r="1.1" fill="#111"/>
<path d="M563.24 234.6 L563.24 239.3" stroke="#111" stroke-width="1.25" fill="none" />
<circle cx="563.64" cy="239.7" r="1.1" fill="#111"/>
<line x1="566.51" y1="232" x2="566.51" y2="242.5" stroke="#333" stroke-width="1.0" />
<circle cx="566.51" cy="232.0" r="1.1" fill="#111"/>
<path d="M569.78 234.6 L569.78 239.3" stroke="#111" stroke-width="1.25" fill="none" />
<circle cx="570.18" cy="239.7" r="1.1" fill="#111"/>
<line x1="573.05" y1="232" x2="573.05" y2="242.5" stroke="#777" stroke-width="1.0" />
<circle cx="573.05" cy="232.0" r="1.1" fill="#111"/>
<path d="M576.31 234.6 L576.31 239.3" stroke="#111" stroke-width="1.25" fill="none" />
<circle cx="576.71" cy="239.7" r="1.1" fill="#111"/>
<line x1="579.58" y1="232" x2="579.58" y2="242.5" stroke="#333" stroke-width="1.0" />
<circle cx="579.58" cy="232.0" r="1.1" fill="#111"/>
<path d="M582.85 234.6 L582.85 239.3" stroke="#111" stroke-width="1.25" fill="none" />
<circle cx="583.25" cy="239.7" r="1.1" fill="#111"/>
<line x1="586.12" y1="232" x2="586.12" y2="242.5" stroke="#777" stroke-width="1.0" />
<circle cx="586.12" cy="232.0" r="1.1" fill="#111"/>
<line x1="587" y1="232" x2="587" y2="242.5" stroke="#222" stroke-width="1" />
<path d="M330.5 243.8 L325.2 257.3 L336.2 257.3 Z" stroke="#222" stroke-width="1.2" fill="none" />
<circle cx="330.8" cy="254.2" r="1.5" fill="none" stroke="#222" stroke-width="1"/>
<path d="M335.5 261 L335.5 275.8 Q335.9 278.6 337.5 279 Q339.1 278.6 339.5 275.8 L339.5 261" stroke="#222" stroke-width="1.05" fill="none" />
<path d="M348.5 261 L348.5 275.8 Q348.9 278.6 350.5 279 Q352.1 278.6 352.5 275.8 L352.5 261" stroke="#222" stroke-width="1.05" fill="none" />
<path d="M361.5 261 L361.5 275.8 Q361.9 278.6 363.5 279 Q365.1 278.6 365.5 275.8 L365.5 261" stroke="#222" stroke-width="1.05" fill="none" />
<path d="M374.5 261 L374.5 275.8 Q374.9 278.6 376.5 279 Q378.1 278.6 378.5 275.8 L378.5 261" stroke="#222" stroke-width="1.05" fill="none" />
<path d="M387.5 261 L387.5 275.8 Q387.9 278.6 389.5 279 Q391.1 278.6 391.5 275.8 L391.5 261" stroke="#222" stroke-width="1.05" fill="none" />
<path d="M401.5 261 L401.5 275.8 Q401.9 278.6 403.5 279 Q405.1 278.6 405.5 275.8 L405.5 261" stroke="#222" stroke-width="1.05" fill="none" />
<path d="M414.5 261 L414.5 275.8 Q414.9 278.6 416.5 279 Q418.1 278.6 418.5 275.8 L418.5 261" stroke="#222" stroke-width="1.05" fill="none" />
<path d="M427.5 261 L427.5 275.8 Q427.9 278.6 429.5 279 Q431.1 278.6 431.5 275.8 L431.5 261" stroke="#222" stroke-width="1.05" fill="none" />
<path d="M440.5 261 L440.5 275.8 Q440.9 278.6 442.5 279 Q444.1 278.6 444.5 275.8 L444.5 261" stroke="#222" stroke-width="1.05" fill="none" />
<path d="M453.5 261 L453.5 275.8 Q453.9 278.6 455.5 279 Q457.1 278.6 457.5 275.8 L457.5 261" stroke="#222" stroke-width="1.05" fill="none" />
<line x1="466.5" y1="261" x2="466.5" y2="288.3" stroke="#222" stroke-width="1" />
<line x1="469.5" y1="261" x2="469.5" y2="288.3" stroke="#222" stroke-width="1" />
<path d="M479.5 261 L479.5 275.8 Q479.9 278.6 481.5 279 Q483.1 278.6 483.5 275.8 L483.5 261" stroke="#222" stroke-width="1.05" fill="none" />
<path d="M492.5 261 L492.5 275.8 Q492.9 278.6 494.5 279 Q496.1 278.6 496.5 275.8 L496.5 261" stroke="#222" stroke-width="1.05" fill="none" />
<path d="M505.5 261 L505.5 275.8 Q505.9 278.6 507.5 279 Q509.1 278.6 509.5 275.8 L509.5 261" stroke="#222" stroke-width="1.05" fill="none" />
<path d="M518.5 261 L518.5 275.8 Q518.9 278.6 520.5 279 Q522.1 278.6 522.5 275.8 L522.5 261" stroke="#222" stroke-width="1.05" fill="none" />
<path d="M532.5 261 L532.5 275.8 Q532.9 278.6 534.5 279 Q536.1 278.6 536.5 275.8 L536.5 261" stroke="#222" stroke-width="1.05" fill="none" />
<path d="M545.5 261 L545.5 275.8 Q545.9 278.6 547.5 279 Q549.1 278.6 549.5 275.8 L549.5 261" stroke="#222" stroke-width="1.05" fill="none" />
<path d="M558.5 261 L558.5 275.8 Q558.9 278.6 560.5 279 Q562.1 278.6 562.5 275.8 L562.5 261" stroke="#222" stroke-width="1.05" fill="none" />
<path d="M571.5 261 L571.5 275.8 Q571.9 278.6 573.5 279 Q575.1 278.6 575.5 275.8 L575.5 261" stroke="#222" stroke-width="1.05" fill="none" />
<path d="M584.5 261 L584.5 275.8 Q584.9 278.6 586.5 279 Q588.1 278.6 588.5 275.8 L588.5 261" stroke="#222" stroke-width="1.05" fill="none" />
<line x1="337.5" y1="280.5" x2="337.5" y2="316" stroke="#222" stroke-width="1" />
<line x1="586.5" y1="280.5" x2="586.5" y2="316" stroke="#222" stroke-width="1" />
<line x1="337.5" y1="315.5" x2="440" y2="315.5" stroke="#333" stroke-width="1" />
<line x1="487.3" y1="315.5" x2="586.5" y2="315.5" stroke="#333" stroke-width="1" />
<polygon points="338,315.5 341.2,314.3 341.2,316.7" fill="#111"/>
<polygon points="586,315.5 582.8,314.3 582.8,316.7" fill="#111"/>
<g transform="translate(440.45,319.4)"><text x="-0.82" y="0" transform="scale(0.85,1)" font-family="Liberation Serif" font-size="12.94" fill="#222">A</text><path d="M8.97 -6.1H17.31M13.14 -9.1V-3.3" stroke="#222" stroke-width="1.1" fill="none"/><rect x="8.97" y="-2.2" width="8.34" height="1.35" fill="#222"/><text x="21.88 29.93 36.31 43.80" y="0" transform="scale(0.9,1)" font-family="Liberation Sans" font-size="13.2" fill="#222">0.15</text></g>
<line x1="363.5" y1="280.5" x2="363.5" y2="291.5" stroke="#222" stroke-width="1" />
<line x1="376.5" y1="280.5" x2="376.5" y2="291.5" stroke="#222" stroke-width="1" />
<line x1="363.5" y1="291.5" x2="379" y2="291.5" stroke="#222" stroke-width="1" />
<g transform="translate(380.15,295.9)"><path d="M28.98 -6.1H37.47M33.23 -9.1V-3.3" stroke="#222" stroke-width="1.1" fill="none"/><rect x="28.98" y="-2.2" width="8.49" height="1.35" fill="#222"/><text x="0" y="0" transform="translate(65.05,0.2) scale(0.66,1)" font-family="Liberation Sans" font-size="14.2" fill="#222">@</text><text x="0.02 8.11 14.80 22.21 44.32 52.41 59.09 66.48" y="0" transform="scale(0.9,1)" font-family="Liberation Sans" font-size="13.2" fill="#222">2.540.08</text></g>
<line x1="461.5" y1="288.3" x2="476" y2="288.3" stroke="#222" stroke-width="1" />
<g transform="translate(476.45,292.5)"><text x="-0.08 7.91 14.25" y="0" transform="scale(0.9,1)" font-family="Liberation Sans" font-size="13.2" fill="#222">0.6</text></g>
<line x1="588" y1="278.5" x2="623" y2="278.5" stroke="#222" stroke-width="1" />
<line x1="622.5" y1="260.5" x2="622.5" y2="278.5" stroke="#222" stroke-width="1" />
<polygon points="622.5,261 621.3,264.2 623.7,264.2" fill="#111"/>
<polygon points="622.5,278 621.3,274.8 623.7,274.8" fill="#111"/>
<g transform="translate(627.20,255.95) rotate(-90)"><path d="M21.87 -6.1H30.04M25.96 -9.1V-3.3" stroke="#222" stroke-width="1.1" fill="none"/><rect x="21.87" y="-2.2" width="8.18" height="1.35" fill="#222"/><text x="-0.03 7.93 14.39 35.98 43.98 50.40 57.63" y="0" transform="scale(0.9,1)" font-family="Liberation Sans" font-size="13.2" fill="#222">3.30.25</text></g>
<line x1="688.5" y1="46" x2="688.5" y2="60" stroke="#222" stroke-width="1" />
<line x1="719.5" y1="46" x2="719.5" y2="60" stroke="#222" stroke-width="1" />
<line x1="688.5" y1="48.5" x2="720.5" y2="48.5" stroke="#222" stroke-width="1" />
<polygon points="689,48.5 692.2,47.3 692.2,49.7" fill="#111"/>
<polygon points="719,48.5 715.8,47.3 715.8,49.7" fill="#111"/>
<g transform="translate(723.35,53)"><path d="M28.44 -6.1H36.66M32.55 -9.1V-3.3" stroke="#222" stroke-width="1.1" fill="none"/><rect x="28.44" y="-2.2" width="8.22" height="1.35" fill="#222"/><text x="-0.10 7.96 14.41 21.65 43.35 51.36 57.63 65.06" y="0" transform="scale(0.9,1)" font-family="Liberation Sans" font-size="13.2" fill="#222">6.000.15</text></g>
<path d="M688.5 75.5 L688.5 61 Q688.5 58.5 691 58.5 L717 58.5 Q719.5 58.5 719.5 61 L719.5 75.5 L713.5 75.5" stroke="#222" stroke-width="1" fill="none" />
<path d="M688.5 75.5 L695.5 75.5" stroke="#222" stroke-width="1" fill="none" />
<path d="M688.5 70.5 L693 70.5 Q695.5 70.5 695.5 73.5 L695.5 109.5" stroke="#222" stroke-width="1" fill="none" />
<path d="M719.5 70.5 L716 70.5 Q713.5 70.5 713.5 73.5 L713.5 109.5" stroke="#222" stroke-width="1" fill="none" />
<line x1="690.5" y1="62.5" x2="718" y2="62.5" stroke="#222" stroke-width="1.0" stroke-dasharray="1.3 1.5"/>
<line x1="695.5" y1="75.5" x2="713.5" y2="75.5" stroke="#222" stroke-width="1.1" stroke-dasharray="1.3 1.5"/>
<line x1="695.5" y1="95.5" x2="713.5" y2="95.5" stroke="#222" stroke-width="1" />
<line x1="692" y1="109.5" x2="713.5" y2="109.5" stroke="#222" stroke-width="1" />
<g transform="translate(632.55,113.2)"><path d="M22.23 -6.1H30.66M26.44 -9.1V-3.3" stroke="#222" stroke-width="1.1" fill="none"/><rect x="22.23" y="-2.2" width="8.42" height="1.35" fill="#222"/><text x="0.04 8.07 14.65 36.73 44.80 51.24 58.78" y="0" transform="scale(0.9,1)" font-family="Liberation Sans" font-size="13.2" fill="#222">3.60.15</text></g>
<line x1="696.5" y1="213" x2="696.5" y2="233" stroke="#222" stroke-width="1" />
<line x1="727.5" y1="213" x2="727.5" y2="233" stroke="#222" stroke-width="1" />
<line x1="696.5" y1="215.5" x2="728" y2="215.5" stroke="#222" stroke-width="1" />
<polygon points="697,215.5 700.2,214.3 700.2,216.7" fill="#111"/>
<polygon points="727,215.5 723.8,214.3 723.8,216.7" fill="#111"/>
<g transform="translate(731.05,220)"><path d="M28.56 -6.1H36.84M32.70 -9.1V-3.3" stroke="#222" stroke-width="1.1" fill="none"/><rect x="28.56" y="-2.2" width="8.28" height="1.35" fill="#222"/><text x="-0.08 7.99 14.50 21.76 43.56 51.59 57.92 65.38" y="0" transform="scale(0.9,1)" font-family="Liberation Sans" font-size="13.2" fill="#222">6.000.15</text></g>
<rect x="696.5" y="234.5" width="6" height="26" rx="1.2" fill="none" stroke="#222" stroke-width="1"/>
<rect x="721.5" y="234.5" width="6" height="26" rx="1.2" fill="none" stroke="#222" stroke-width="1"/>
<line x1="702.5" y1="234.5" x2="721.5" y2="234.5" stroke="#222" stroke-width="1" />
<path d="M707 234.5 L707.2 236.3 Q707.3 237 708 237 L716 237 Q716.7 237 716.8 236.3 L717 234.5" stroke="#222" stroke-width="1" fill="none" />
<line x1="727.5" y1="234.5" x2="742.5" y2="234.5" stroke="#222" stroke-width="1" />
<line x1="727.5" y1="260.5" x2="742.5" y2="260.5" stroke="#222" stroke-width="1" />
<line x1="742.5" y1="234.5" x2="742.5" y2="260.5" stroke="#222" stroke-width="1" />
<polygon points="742.5,235 741.3,238.2 743.7,238.2" fill="#111"/>
<polygon points="742.5,260 741.3,256.8 743.7,256.8" fill="#111"/>
<rect x="704.2" y="230.6" width="2.4" height="4.2" rx="1.2" fill="#1a1a1a"/>
<rect x="717.3" y="230.6" width="2.4" height="4.2" rx="1.2" fill="#1a1a1a"/>
<rect x="702.5" y="246" width="5.2" height="8.2" rx="1" fill="none" stroke="#222" stroke-width="1.2"/>
<rect x="716.5" y="246" width="5.2" height="8.2" rx="1" fill="none" stroke="#222" stroke-width="1.2"/>
<line x1="702.5" y1="257.3" x2="721.5" y2="257.3" stroke="#222" stroke-width="1.3" />
<line x1="705.3" y1="257.5" x2="705.3" y2="278.7" stroke="#222" stroke-width="2.1" />
<line x1="718.6" y1="257.5" x2="718.6" y2="278.7" stroke="#222" stroke-width="2.1" />
<line x1="705.5" y1="278.7" x2="705.5" y2="296.5" stroke="#222" stroke-width="1" />
<line x1="718.5" y1="278.7" x2="718.5" y2="296.5" stroke="#222" stroke-width="1" />
<line x1="703" y1="296.5" x2="718.5" y2="296.5" stroke="#222" stroke-width="1" />
<g transform="translate(637.45,300.2)"><path d="M28.40 -6.1H36.60M32.50 -9.1V-3.3" stroke="#222" stroke-width="1.1" fill="none"/><rect x="28.40" y="-2.2" width="8.20" height="1.35" fill="#222"/><text x="-0.06 7.94 14.40 21.65 43.27 51.28 57.72 64.94" y="0" transform="scale(0.9,1)" font-family="Liberation Sans" font-size="13.2" fill="#222">2.540.08</text></g>
<g transform="translate(746.20,327.45) rotate(-90)"><path d="M28.36 -6.1H36.54M32.45 -9.1V-3.3" stroke="#222" stroke-width="1.1" fill="none"/><rect x="28.36" y="-2.2" width="8.18" height="1.35" fill="#222"/><text x="-0.05 7.93 14.36 21.57 43.20 51.20 57.44 64.85" y="0" transform="scale(0.9,1)" font-family="Liberation Sans" font-size="13.2" fill="#222">5.000.15</text></g>
<circle cx="476.8" cy="384.4" r="6.4" fill="none" stroke="#333" stroke-width="1.35"/>
<line x1="481.6" y1="389" x2="486.8" y2="394.2" stroke="#1a1a1a" stroke-width="3.2" stroke-linecap="round"/>
<text x="327.12" y="440.6" font-family="Liberation Sans" font-size="15.6" fill="#444" textLength="95.19" lengthAdjust="spacing" >Recommend</text>
<text x="430.99" y="440.6" font-family="Liberation Sans" font-size="15.6" fill="#444" textLength="27.73" lengthAdjust="spacing" >p.c.</text>
<text x="467.72" y="440.6" font-family="Liberation Sans" font-size="15.6" fill="#444" textLength="45.09" lengthAdjust="spacing" >Board</text>
<text x="521.72" y="440.6" font-family="Liberation Sans" font-size="15.6" fill="#444" textLength="51.19" lengthAdjust="spacing" >Layout</text>
<rect x="332.40" y="475.4" width="4.2" height="3.2" rx="1.2" fill="#aaa" stroke="#1a1a1a" stroke-width="1.15"/>
<rect x="345.49" y="475.4" width="4.2" height="3.2" rx="1.2" fill="#aaa" stroke="#1a1a1a" stroke-width="1.15"/>
<rect x="358.58" y="475.4" width="4.2" height="3.2" rx="1.2" fill="#aaa" stroke="#1a1a1a" stroke-width="1.15"/>
<rect x="371.67" y="475.4" width="4.2" height="3.2" rx="1.2" fill="#aaa" stroke="#1a1a1a" stroke-width="1.15"/>
<rect x="384.76" y="475.4" width="4.2" height="3.2" rx="1.2" fill="#aaa" stroke="#1a1a1a" stroke-width="1.15"/>
<rect x="397.85" y="475.4" width="4.2" height="3.2" rx="1.2" fill="#aaa" stroke="#1a1a1a" stroke-width="1.15"/>
<rect x="410.94" y="475.4" width="4.2" height="3.2" rx="1.2" fill="#aaa" stroke="#1a1a1a" stroke-width="1.15"/>
<rect x="424.03" y="475.4" width="4.2" height="3.2" rx="1.2" fill="#aaa" stroke="#1a1a1a" stroke-width="1.15"/>
<rect x="437.12" y="475.4" width="4.2" height="3.2" rx="1.2" fill="#aaa" stroke="#1a1a1a" stroke-width="1.15"/>
<rect x="450.21" y="475.4" width="4.2" height="3.2" rx="1.2" fill="#aaa" stroke="#1a1a1a" stroke-width="1.15"/>
<rect x="463.30" y="475.4" width="4.2" height="3.2" rx="1.2" fill="#aaa" stroke="#1a1a1a" stroke-width="1.15"/>
<rect x="476.39" y="475.4" width="4.2" height="3.2" rx="1.2" fill="#aaa" stroke="#1a1a1a" stroke-width="1.15"/>
<rect x="489.48" y="475.4" width="4.2" height="3.2" rx="1.2" fill="#aaa" stroke="#1a1a1a" stroke-width="1.15"/>
<rect x="502.57" y="475.4" width="4.2" height="3.2" rx="1.2" fill="#aaa" stroke="#1a1a1a" stroke-width="1.15"/>
<rect x="515.66" y="475.4" width="4.2" height="3.2" rx="1.2" fill="#aaa" stroke="#1a1a1a" stroke-width="1.15"/>
<rect x="528.75" y="475.4" width="4.2" height="3.2" rx="1.2" fill="#aaa" stroke="#1a1a1a" stroke-width="1.15"/>
<rect x="541.84" y="475.4" width="4.2" height="3.2" rx="1.2" fill="#aaa" stroke="#1a1a1a" stroke-width="1.15"/>
<rect x="554.93" y="475.4" width="4.2" height="3.2" rx="1.2" fill="#aaa" stroke="#1a1a1a" stroke-width="1.15"/>
<rect x="568.02" y="475.4" width="4.2" height="3.2" rx="1.2" fill="#aaa" stroke="#1a1a1a" stroke-width="1.15"/>
<rect x="581.11" y="475.4" width="4.2" height="3.2" rx="1.2" fill="#aaa" stroke="#1a1a1a" stroke-width="1.15"/>
<rect x="332.40" y="488.4" width="4.2" height="3.2" rx="1.2" fill="#aaa" stroke="#1a1a1a" stroke-width="1.15"/>
<rect x="345.49" y="488.4" width="4.2" height="3.2" rx="1.2" fill="#aaa" stroke="#1a1a1a" stroke-width="1.15"/>
<rect x="358.58" y="488.4" width="4.2" height="3.2" rx="1.2" fill="#aaa" stroke="#1a1a1a" stroke-width="1.15"/>
<rect x="371.67" y="488.4" width="4.2" height="3.2" rx="1.2" fill="#aaa" stroke="#1a1a1a" stroke-width="1.15"/>
<rect x="384.76" y="488.4" width="4.2" height="3.2" rx="1.2" fill="#aaa" stroke="#1a1a1a" stroke-width="1.15"/>
<rect x="397.85" y="488.4" width="4.2" height="3.2" rx="1.2" fill="#aaa" stroke="#1a1a1a" stroke-width="1.15"/>
<rect x="410.94" y="488.4" width="4.2" height="3.2" rx="1.2" fill="#aaa" stroke="#1a1a1a" stroke-width="1.15"/>
<rect x="424.03" y="488.4" width="4.2" height="3.2" rx="1.2" fill="#aaa" stroke="#1a1a1a" stroke-width="1.15"/>
<rect x="437.12" y="488.4" width="4.2" height="3.2" rx="1.2" fill="#aaa" stroke="#1a1a1a" stroke-width="1.15"/>
<rect x="450.21" y="488.4" width="4.2" height="3.2" rx="1.2" fill="#aaa" stroke="#1a1a1a" stroke-width="1.15"/>
<rect x="463.30" y="488.4" width="4.2" height="3.2" rx="1.2" fill="#aaa" stroke="#1a1a1a" stroke-width="1.15"/>
<rect x="476.39" y="488.4" width="4.2" height="3.2" rx="1.2" fill="#aaa" stroke="#1a1a1a" stroke-width="1.15"/>
<rect x="489.48" y="488.4" width="4.2" height="3.2" rx="1.2" fill="#aaa" stroke="#1a1a1a" stroke-width="1.15"/>
<rect x="502.57" y="488.4" width="4.2" height="3.2" rx="1.2" fill="#aaa" stroke="#1a1a1a" stroke-width="1.15"/>
<rect x="515.66" y="488.4" width="4.2" height="3.2" rx="1.2" fill="#aaa" stroke="#1a1a1a" stroke-width="1.15"/>
<rect x="528.75" y="488.4" width="4.2" height="3.2" rx="1.2" fill="#aaa" stroke="#1a1a1a" stroke-width="1.15"/>
<rect x="541.84" y="488.4" width="4.2" height="3.2" rx="1.2" fill="#aaa" stroke="#1a1a1a" stroke-width="1.15"/>
<rect x="554.93" y="488.4" width="4.2" height="3.2" rx="1.2" fill="#aaa" stroke="#1a1a1a" stroke-width="1.15"/>
<rect x="568.02" y="488.4" width="4.2" height="3.2" rx="1.2" fill="#aaa" stroke="#1a1a1a" stroke-width="1.15"/>
<rect x="581.11" y="488.4" width="4.2" height="3.2" rx="1.2" fill="#aaa" stroke="#1a1a1a" stroke-width="1.15"/>
<line x1="321.5" y1="477" x2="332" y2="477" stroke="#222" stroke-width="1" />
<line x1="321.5" y1="490" x2="332" y2="490" stroke="#222" stroke-width="1" />
<line x1="321.5" y1="477" x2="321.5" y2="492" stroke="#222" stroke-width="1" />
<g transform="translate(325.20,557.95) rotate(-90)"><path d="M28.28 -6.1H36.42M32.35 -9.1V-3.3" stroke="#222" stroke-width="1.1" fill="none"/><rect x="28.28" y="-2.2" width="8.14" height="1.35" fill="#222"/><text x="-0.08 7.91 14.31 21.53 43.06 51.04 57.43 64.62" y="0" transform="scale(0.9,1)" font-family="Liberation Sans" font-size="13.2" fill="#222">2.540.08</text></g>
<line x1="360.5" y1="492" x2="360.5" y2="505.5" stroke="#222" stroke-width="1" />
<line x1="373.5" y1="492" x2="373.5" y2="505.5" stroke="#222" stroke-width="1" />
<line x1="360.5" y1="505.5" x2="377" y2="505.5" stroke="#222" stroke-width="1" />
<g transform="translate(377.05,510)"><path d="M28.28 -6.1H36.42M32.35 -9.1V-3.3" stroke="#222" stroke-width="1.1" fill="none"/><rect x="28.28" y="-2.2" width="8.14" height="1.35" fill="#222"/><text x="-0.08 7.91 14.31 21.53 43.06 51.04 57.43 64.62" y="0" transform="scale(0.9,1)" font-family="Liberation Sans" font-size="13.2" fill="#222">2.540.08</text></g>
<line x1="334.5" y1="492" x2="334.5" y2="530.5" stroke="#222" stroke-width="1" />
<line x1="583.5" y1="492" x2="583.5" y2="530.5" stroke="#222" stroke-width="1" />
<line x1="334.5" y1="530.5" x2="436" y2="530.5" stroke="#222" stroke-width="1" />
<line x1="482.5" y1="530.5" x2="583.5" y2="530.5" stroke="#222" stroke-width="1" />
<g transform="translate(435.85,534.6)"><text x="-0.77" y="0" transform="scale(0.85,1)" font-family="Liberation Serif" font-size="12.94" fill="#222">A</text><path d="M9.06 -6.1H17.57M13.31 -9.1V-3.3" stroke="#222" stroke-width="1.1" fill="none"/><rect x="9.06" y="-2.2" width="8.51" height="1.35" fill="#222"/><text x="22.22 30.31 36.83 44.42" y="0" transform="scale(0.9,1)" font-family="Liberation Sans" font-size="13.2" fill="#222">0.15</text></g>
</svg>
<svg width="800" height="557" viewBox="0 0 800 557">
<rect x="703.1" y="249.1" width="4.0" height="2.0" fill="#5adde6"/>
<rect x="717.1" y="249.1" width="4.0" height="2.0" fill="#5adde6"/>
</svg>
</body></html>
